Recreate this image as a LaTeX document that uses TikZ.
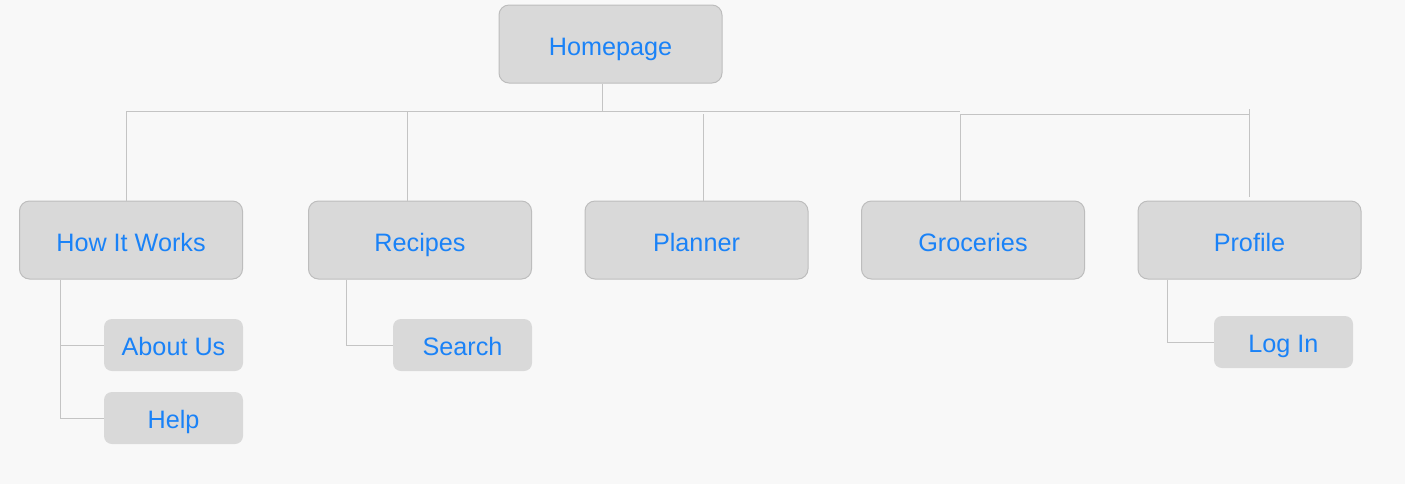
\documentclass[tikz,border=0pt]{standalone}
\usepackage{fontspec}
\setmainfont{Liberation Sans}
\definecolor{bgcol}{HTML}{F8F8F8}
\definecolor{boxcol}{HTML}{D9D9D9}
\definecolor{edgecol}{HTML}{BDBDBD}
\definecolor{linkcol}{HTML}{C4C4C4}
\definecolor{textcol}{HTML}{1A82F7}
\tikzset{
	page/.style={draw=edgecol, line width=0.5pt, fill=boxcol, rounded corners=5pt,
		minimum width=111.5pt, minimum height=39pt, text=textcol,
		text height=11pt, text depth=0pt,
		font=\fontsize{12.6}{15}\selectfont},
	subpage/.style={fill=boxcol, rounded corners=4pt,
		minimum width=69.5pt, minimum height=26pt, text=textcol,
		text height=10.5pt, text depth=0pt,
		font=\fontsize{12.6}{15}\selectfont},
	link/.style={draw=linkcol, line width=0.5pt}
}

\begin{document}
\begin{tikzpicture}[x=0.5pt, y=-0.5pt]
	\fill[bgcol] (0,0) rectangle (1405,484);
	\useasboundingbox (0,0) rectangle (1405,484);
	\node[page] (home) at (610.5,44) {Homepage};
	\node[page] (works) at (131,240) {How It Works};
	\node[page] (recipes) at (420,240) {Recipes};
	\node[page] (planner) at (696.5,240) {Planner};
	\node[page] (groceries) at (973,240) {Groceries};
	\node[page] (profile) at (1249.5,240) {Profile};
	\node[subpage] (about) at (173.5,345) {About Us};
	\node[subpage] (help) at (173.5,418) {Help};
	\node[subpage] (search) at (462.5,345) {Search};
	\node[subpage] (login) at (1283.5,342) {Log In};
	\coordinate (hub) at (602,111);
	\coordinate (hubr) at (960,114);
	\draw[link] (home.south -| hub) -- (hub);
	\draw[link] (126,111) -- (960,111);
	\draw[link] (hubr) -- (1249.5,114);
	\draw[link] (126,111) -- (works.north -| 126,0);
	\draw[link] (407,111) -- (recipes.north -| 407,0);
	\draw[link] (703,114) -- (planner.north -| 703,0);
	\draw[link] (hubr) -- (groceries.north -| hubr);
	\draw[link] (1249.5,109) -- ([yshift=2pt]profile.north);
	\draw[link] (works.south -| 60,0) |- (help.west);
	\draw[link] (60,345) -- (about.west);
	\draw[link] (recipes.south -| 346,0) |- (search.west);
	\draw[link] (profile.south -| 1167,0) |- (login.west);
\end{tikzpicture}
\end{document}
